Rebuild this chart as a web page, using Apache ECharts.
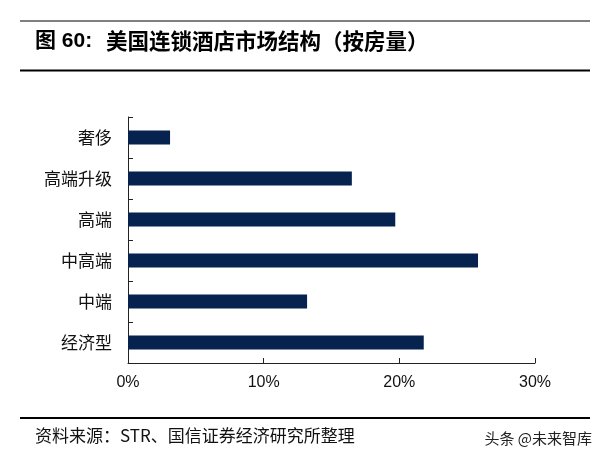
<!DOCTYPE html>
<html>
<head>
<meta charset="utf-8">
<script src="https://cdn.jsdelivr.net/npm/echarts@6/dist/echarts.min.js"></script>
<style>
html,body{margin:0;padding:0;background:#fff;}
#main{width:608px;height:464px;}
</style>
</head>
<body>
<div id="main"></div>
<script>
const categories = ['奢侈', '高端升级', '高端', '中高端', '中端', '经济型'];
const shares = [3.1, 16.5, 19.7, 25.8, 13.2, 21.8];
const xTicks = [0, 10, 20, 30];

const chart = echarts.init(document.getElementById('main'), null, {renderer: 'canvas'});
const cjk = '"Noto Sans CJK SC", "Noto Sans", sans-serif';
chart.setOption({
  backgroundColor: '#ffffff',
  animation: false,
  grid: {left: 128, right: 73, top: 117, bottom: 101, containLabel: false},
  xAxis: {
    type: 'value',
    min: xTicks[0],
    max: xTicks[xTicks.length - 1],
    interval: 10,
    axisLine: {show: true, lineStyle: {color: '#222', width: 1}},
    axisTick: {show: true, inside: true, length: 5, lineStyle: {color: '#222'}},
    splitLine: {show: false},
    axisLabel: {formatter: '{value}%', color: '#111', fontSize: 16, margin: 12, fontFamily: '"Liberation Sans", Arial, sans-serif'}
  },
  yAxis: {
    type: 'category',
    data: categories,
    inverse: true,
    axisLine: {show: true, lineStyle: {color: '#222', width: 1}},
    axisTick: {show: true, inside: true, length: 5, lineStyle: {color: '#222'}},
    axisLabel: {color: '#111', fontSize: 17, margin: 16, fontFamily: cjk}
  },
  series: [{
    type: 'bar',
    data: shares,
    barWidth: 14,
    itemStyle: {color: '#06234f'}
  }],
  graphic: [
    {type: 'line', shape: {x1: 20, y1: 21, x2: 590, y2: 21}, style: {stroke: '#000', lineWidth: 1}},
    {type: 'text', left: 35, top: 31, style: {text: '图 60:', font: 'bold 21px "Liberation Sans", "Noto Sans CJK SC", sans-serif', fill: '#000'}},
    {type: 'text', left: 106, top: 30, style: {text: '美国连锁酒店市场结构（按房量）', font: 'bold 21.5px "Noto Sans CJK SC", sans-serif', fill: '#000'}},
    {type: 'line', shape: {x1: 20, y1: 70.5, x2: 590, y2: 70.5}, style: {stroke: '#000', lineWidth: 2}},
    {type: 'line', shape: {x1: 20, y1: 418, x2: 590, y2: 418}, style: {stroke: '#000', lineWidth: 2}},
    {type: 'text', left: 35, top: 427, style: {text: '资料来源：STR、国信证券经济研究所整理', font: '17px "Noto Sans CJK SC", sans-serif', fill: '#111'}},
    {type: 'text', right: 16, top: 431, style: {text: '头条 @未来智库', font: '15px "Noto Sans CJK SC", sans-serif', fill: '#222'}}
  ]
});
</script>
</body>
</html>
